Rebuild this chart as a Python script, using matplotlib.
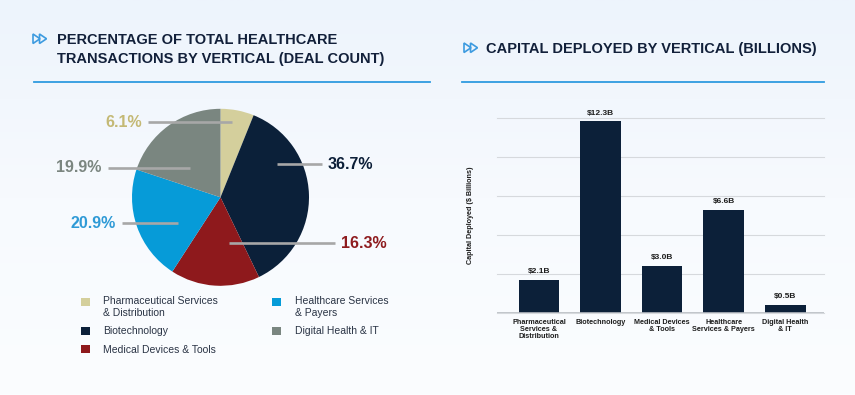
import matplotlib.pyplot as plt
import numpy as np
from matplotlib.patches import Polygon
from matplotlib.colors import LinearSegmentedColormap

# pie data (deal count share)
verticals = ["Pharmaceutical Services\n& Distribution", "Biotechnology", "Medical Devices & Tools",
             "Healthcare Services\n& Payers", "Digital Health & IT"]
deal_share = [6.1, 36.7, 16.3, 20.9, 19.9]

# bar data (capital deployed, $B)
bar_labels = ["Pharmaceutical\nServices &\nDistribution", "Biotechnology", "Medical Devices\n& Tools",
              "Healthcare\nServices & Payers", "Digital Health\n& IT"]
capital = [2.1, 12.3, 3.0, 6.6, 0.5]

pie_colors = ["#d4cf9c", "#0b2039", "#8e191c", "#069bd8", "#7a8680"]
pct_colors = ["#c4b975", "#0c1f38", "#8e1b1e", "#2f9ad6", "#7b8680"]
# label layout: inner anchor (x, y) in pie units, line end x, text side
pct_layout = [((0.127, 0.847), -0.82, "left"),
              ((0.635, 0.373), 1.145, "right"),
              ((0.096, -0.52), 1.295, "right"),
              ((-0.477, -0.294), -1.115, "left"),
              ((-0.345, 0.334), -1.275, "left")]

W, H = 855, 395
plt.rcParams['font.family'] = ['Liberation Sans', 'DejaVu Sans']
fig = plt.figure(figsize=(W / 100, H / 100), dpi=100)


def fx(x):
    return x / W


def fy(y):
    return 1 - y / H


# soft background gradient
bg = fig.add_axes([0, 0, 1, 1], zorder=-10)
grad = np.linspace(0, 1, 256).reshape(-1, 1)
cmap = LinearSegmentedColormap.from_list("bg", ["#edf4fc", "#f7fafe", "#fbfdff"])
bg.imshow(grad, aspect='auto', cmap=cmap, extent=[0, 1, 0, 1])
bg.axis('off')

navy = "#12203a"
blue_line = "#2f9be0"


def header(x_icon, y_top, text, x_text, line_x0, line_x1, line_y):
    for dx in (0, 6.5):
        tri = Polygon([(fx(x_icon + dx), fy(y_top)), (fx(x_icon + dx), fy(y_top + 9.5)),
                       (fx(x_icon + dx + 7), fy(y_top + 4.75))], closed=True, fill=False,
                      edgecolor="#3d9be0", linewidth=1.2, transform=fig.transFigure)
        fig.add_artist(tri)
    fig.text(fx(x_text), fy(y_top - 1), text, fontsize=10.5, fontweight='bold', color=navy,
             va='top', ha='left', linespacing=1.45)
    fig.add_artist(plt.Line2D([fx(line_x0), fx(line_x1)], [fy(line_y), fy(line_y)],
                              color=blue_line, linewidth=1.3, transform=fig.transFigure))


header(33, 34, "PERCENTAGE OF TOTAL HEALTHCARE\nTRANSACTIONS BY VERTICAL (DEAL COUNT)", 56.5, 34, 430, 81.7)
header(464, 43, "CAPITAL DEPLOYED BY VERTICAL (BILLIONS)", 486, 462, 824, 82)

# ---- pie ----
r_px = 88.5
cx, cy = 220.5, 197.3
ax1 = fig.add_axes([fx(cx - r_px), fy(cy + r_px), 2 * r_px / W, 2 * r_px / H])
wedges, _ = ax1.pie(deal_share, colors=pie_colors, startangle=90, counterclock=False,
                    wedgeprops=dict(linewidth=0))
ax1.set_xlim(-1, 1)
ax1.set_ylim(-1, 1)
ax1.set_aspect('equal')
for val, col, (anchor, xend, side) in zip(deal_share, pct_colors, pct_layout):
    ax1.plot([anchor[0], xend], [anchor[1], anchor[1]], color="#a7a7a7", lw=1.9,
             clip_on=False, solid_capstyle='butt')
    if side == "left":
        ax1.text(xend - 0.07, anchor[1], f"{val}%", ha='right', va='center', fontsize=11.5,
                 fontweight='bold', color=col, clip_on=False)
    else:
        ax1.text(xend + 0.07, anchor[1], f"{val}%", ha='left', va='center', fontsize=11.5,
                 fontweight='bold', color=col, clip_on=False)

leg = fig.legend(wedges, verticals, ncol=2, loc='upper left', bbox_to_anchor=(fx(71.5), fy(287)),
                 frameon=False, fontsize=7.5, handlelength=0.85, handleheight=0.85, handletextpad=1.3,
                 columnspacing=5.2, labelspacing=0.8, labelcolor="#2a3445")
# put the square next to the first line of two-line entries
for h, lab in zip(leg.legend_handles, verticals):
    if "\n" in lab:
        h.set_y(h.get_y() + 4.2)

# ---- bars ----
base_y, top_y = 312.7, 118.3
ax2 = fig.add_axes([fx(497), fy(base_y), 327 / W, (base_y - top_y) / H])
x = np.arange(len(capital))
bars = ax2.bar(x, capital, width=0.66, color="#0c2039", zorder=3)
ax2.bar_label(bars, fmt="${:.1f}B", padding=3.5, fontsize=6, fontweight='bold', color="#1d1d1d")
ax2.set_xlim(-0.68, 4.63)
ax2.set_ylim(0, 12.5)
ax2.set_yticks(np.arange(0, 12.6, 2.5))
ax2.set_yticklabels([])
ax2.yaxis.grid(True, color="#d6d9dd", linewidth=0.8, zorder=0)
for gl in ax2.get_ygridlines():
    gl.set_clip_on(False)
ax2.axhline(0, color="#b8bcc2", linewidth=1.2, zorder=4)
for s in ax2.spines.values():
    s.set_visible(False)
ax2.set_xticks(x)
ax2.set_xticklabels(bar_labels, fontsize=5.2, fontweight='bold', color="#1d1d1d", linespacing=1.05)
ax2.tick_params(axis='both', length=0, pad=4.5)
ax2.set_facecolor('none')
ax2.text(-0.08, 0.5, "Capital Deployed ($ Billions)", transform=ax2.transAxes, rotation=90,
         ha='center', va='center', fontsize=5.2, fontweight='bold', color="#1d1d1d")

fig.savefig("out.png", dpi=100)
